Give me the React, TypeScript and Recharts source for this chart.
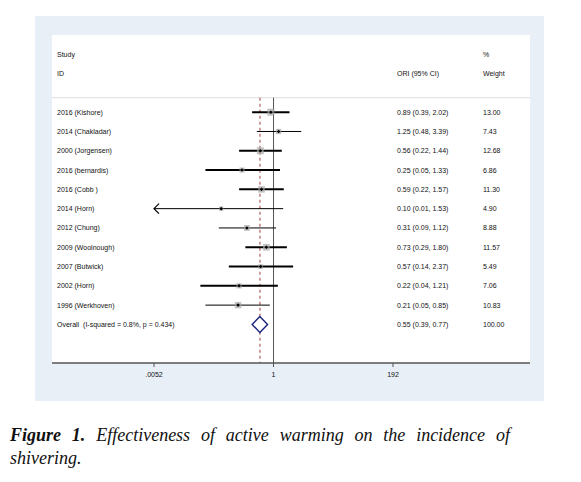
import React from 'react';
import { ComposedChart, XAxis, YAxis, Scatter, ReferenceLine, CartesianGrid } from 'recharts';

const studies = [
  '2016 (Kishore)', '2014 (Chakladar)', '2000 (Jorgensen)', '2016 (bernardis)', '2016 (Cobb )',
  '2014 (Horn)', '2012 (Chung)', '2009 (Woolnough)', '2007 (Butwick)', '2002 (Horn)', '1996 (Werkhoven)',
];
const oddsRatios = [0.89, 1.25, 0.56, 0.25, 0.59, 0.10, 0.31, 0.73, 0.57, 0.22, 0.21];
const ciLower = [0.39, 0.48, 0.22, 0.05, 0.22, 0.01, 0.09, 0.29, 0.14, 0.04, 0.05];
const ciUpper = [2.02, 3.39, 1.44, 1.33, 1.57, 1.53, 1.12, 1.80, 2.37, 1.21, 0.85];
const weights = [13.00, 7.43, 12.68, 6.86, 11.30, 4.90, 8.88, 11.57, 5.49, 7.06, 10.83];
const truncatedLow = [false, false, false, false, false, true, false, false, false, false, false];

const overallLabel = 'Overall\u00a0 (I-squared = 0.8%, p = 0.434)';
const overallOR = 0.55;
const overallLower = 0.39;
const overallUpper = 0.77;
const overallWeight = 100.0;

const xTickValues = [0.0052, 1, 192];
const xTickLabels = ['.0052', '1', '192'];
const xDomain: [number, number] = [0.0052, 192];

const headerStudy = ['Study', 'ID'];
const headerOR = ['', 'ORI (95% CI)'];
const headerWeight = ['%', 'Weight'];

const captionBoldWords = ['Figure', '1.'];
const captionLine1 = 'Effectiveness of active warming on the incidence of';
const captionLine2 = 'shivering.';

// thin vs. thick CI strokes as rendered in the reference
const thinRows = [false, true, false, false, false, true, true, false, false, false, true];

const rows = studies.map((s, i) => ({
  k: i + 1,
  label: s,
  or: oddsRatios[i],
  lo: ciLower[i],
  hi: ciUpper[i],
  w: weights[i],
}));
const overallK = rows.length + 1;

const fmt2 = (v: number) => v.toFixed(2);

const FONT = '"Liberation Sans", Arial, sans-serif';
const COL_STUDY = 22;
const COL_OR = 362;
const COL_WT = 448;

const RowTick = (props: any) => {
  const { y, payload } = props;
  const v = payload.value;
  let a = '';
  let b = '';
  let c = '';
  if (v < 0) {
    const idx = v + 2;
    a = headerStudy[idx];
    b = headerOR[idx];
    c = headerWeight[idx];
  } else if (v === overallK) {
    a = overallLabel;
    b = `${fmt2(overallOR)} (${fmt2(overallLower)}, ${fmt2(overallUpper)})`;
    c = fmt2(overallWeight);
  } else {
    const r = rows[v - 1];
    if (!r) return <g />;
    a = r.label;
    b = `${fmt2(r.or)} (${fmt2(r.lo)}, ${fmt2(r.hi)})`;
    c = fmt2(r.w);
  }
  const common = { fontSize: 7, fontFamily: FONT, fill: '#111', dy: '0.35em', textAnchor: 'start' as const };
  return (
    <g>
      <text x={COL_STUDY} y={y} {...common} style={{ whiteSpace: 'pre' }}>{a}</text>
      <text x={COL_OR} y={y} {...common}>{b}</text>
      <text x={COL_WT} y={y} {...common}>{c}</text>
    </g>
  );
};

const StudyMarker = (props: any) => {
  const { cx, cy, payload } = props;
  if (cx == null || cy == null) return <g />;
  const side = 1.95 * Math.sqrt(payload.w);
  return (
    <g>
      <rect x={cx - side / 2} y={cy - side / 2} width={side} height={side} fill="#a8a8a8" fillOpacity={0.7} />
      <path d={`M${cx - 1.8},${cy} L${cx},${cy - 1.8} L${cx + 1.8},${cy} L${cx},${cy + 1.8}Z`} fill="#000" />
    </g>
  );
};

const arrowShape = (p: any) => (
  <g>
    <line x1={p.x1} y1={p.y1} x2={p.x2} y2={p.y2} stroke="#000" strokeWidth={1} />
    <path d={`M${p.x1 + 5},${p.y1 - 5} L${p.x1},${p.y1} L${p.x1 + 5},${p.y1 + 5}`} fill="none" stroke="#000" strokeWidth={1.2} />
  </g>
);

const diamondShape = (p: any) => {
  const mid = (p.x1 + p.x2) / 2;
  const y = p.y1;
  return (
    <polygon
      points={`${p.x1},${y} ${mid},${y - 8} ${p.x2},${y} ${mid},${y + 8}`}
      fill="#fff"
      stroke="#1a237e"
      strokeWidth={1.4}
    />
  );
};

const yTicks = [-2, -1, ...rows.map((r) => r.k), overallK];

const captionStyle: React.CSSProperties = {
  fontFamily: '"Liberation Serif", "Times New Roman", serif',
  fontSize: 18,
  lineHeight: '23px',
  fontStyle: 'italic',
  color: '#111',
  whiteSpace: 'nowrap',
};

export default function App() {
  const words = captionLine1.split(' ');
  return (
    <div style={{ position: 'absolute', left: 0, top: 0, width: 581, height: 482, background: '#fff' }}>
      <div style={{ position: 'absolute', left: 35, top: 16, width: 509, height: 385, background: '#e8eff7' }}>
        <ComposedChart width={509} height={385} margin={{ top: 19, right: 14, bottom: 0, left: 17 }}>
          <CartesianGrid fill="#fff" stroke="none" horizontal={false} vertical={false} />
          <XAxis
            type="number"
            dataKey="or"
            scale="log"
            domain={xDomain}
            allowDataOverflow
            ticks={xTickValues}
            tickFormatter={(v: number) => xTickLabels[xTickValues.indexOf(v)] ?? String(v)}
            interval={0}
            padding={{ left: 102, right: 137 }}
            height={38}
            tickSize={4}
            tickMargin={5}
            axisLine={{ stroke: '#555', strokeWidth: 1.5 }}
            tickLine={{ stroke: '#555' }}
            tick={{ fill: '#111', fontSize: 7, fontFamily: FONT }}
          />
          <YAxis
            type="number"
            dataKey="k"
            domain={[-3, 14]}
            reversed
            mirror
            allowDataOverflow
            ticks={yTicks}
            interval={0}
            tick={(p: any) => <RowTick {...p} />}
            tickLine={false}
            axisLine={false}
          />
          <ReferenceLine y={0.25} stroke="#dddddd" strokeWidth={1} />
          <ReferenceLine segment={[{ x: 1, y: 0.25 }, { x: 1, y: 14 }]} stroke="#555" strokeWidth={1} />
          <ReferenceLine
            segment={[{ x: overallOR, y: 0.25 }, { x: overallOR, y: 14 }]}
            stroke="#c08080"
            strokeWidth={1.5}
            strokeDasharray="3 3"
          />
          {rows.map((r, i) =>
            truncatedLow[i] ? (
              <ReferenceLine
                key={`ci${i}`}
                segment={[{ x: xDomain[0], y: r.k }, { x: r.hi, y: r.k }]}
                shape={arrowShape}
              />
            ) : (
              <ReferenceLine
                key={`ci${i}`}
                segment={[{ x: r.lo, y: r.k }, { x: r.hi, y: r.k }]}
                stroke="#000"
                strokeWidth={thinRows[i] ? 1 : 2}
              />
            )
          )}
          <ReferenceLine
            segment={[{ x: overallLower, y: overallK }, { x: overallUpper, y: overallK }]}
            shape={diamondShape}
          />
          <Scatter data={rows} shape={(p: any) => <StudyMarker {...p} />} isAnimationActive={false} />
        </ComposedChart>
      </div>
      <div
        style={{
          ...captionStyle,
          position: 'absolute',
          left: 10,
          top: 424,
          width: 500,
          height: 23,
          display: 'flex',
          justifyContent: 'space-between',
        }}
      >
        {captionBoldWords.map((w, i) => (
          <span key={`b${i}`} style={{ fontWeight: 'bold' }}>{w}</span>
        ))}
        {words.map((w, i) => (
          <span key={i}>{w}</span>
        ))}
      </div>
      <div style={{ ...captionStyle, position: 'absolute', left: 10, top: 447 }}>{captionLine2}</div>
    </div>
  );
}
